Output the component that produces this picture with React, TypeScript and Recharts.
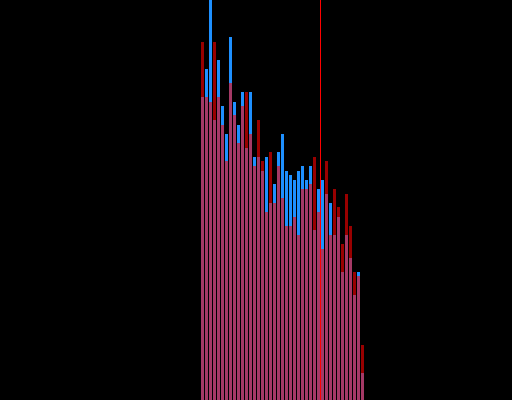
import React from "react";
import { BarChart, Bar, XAxis, YAxis, ReferenceLine } from "recharts";

const bins: string[] = Array.from({ length: 41 }, (_, i) => String(i));

const seriesA: number[] = [
  303, 331, 400, 280, 340, 294, 266, 363, 298, 275,
  308, 252, 308, 243, 243, 229, 243, 197, 216, 248,
  266, 229, 225, 220, 229, 234, 220, 234, 170, 211,
  220, 206, 197, 165, 183, 128, 165, 142, 105, 128,
  27,
];

const seriesB: number[] = [
  358, 303, 298, 358, 303, 275, 239, 317, 285, 257,
  294, 308, 266, 234, 280, 239, 188, 248, 197, 234,
  202, 174, 174, 183, 165, 211, 211, 216, 243, 188,
  151, 239, 165, 211, 193, 156, 206, 174, 128, 124,
  55,
];

const markerBin = "30";

const data = bins.map((b, i) => ({ bin: b, a: seriesA[i], b: seriesB[i] }));

export default function App() {
  return (
    <div
      style={{
        position: "absolute",
        left: 0,
        top: 0,
        width: 512,
        height: 400,
        background: "#000000",
        overflow: "hidden",
      }}
    >
      <BarChart
        width={512}
        height={400}
        data={data}
        margin={{ top: 0, right: 147.5, bottom: 0, left: 200.5 }}
        barCategoryGap={0.5}
      >
        <XAxis xAxisId="a" dataKey="bin" hide />
        <XAxis xAxisId="b" dataKey="bin" hide />
        <YAxis domain={[0, 400]} hide allowDataOverflow />
        <Bar xAxisId="a" dataKey="a" fill="#1E90FF" isAnimationActive={false} />
        <Bar xAxisId="b" dataKey="b" fill="#FF0000" fillOpacity={0.6} isAnimationActive={false} />
        <ReferenceLine xAxisId="b" x={markerBin} position="start" stroke="#FF0000" strokeWidth={1} />
      </BarChart>
    </div>
  );
}
